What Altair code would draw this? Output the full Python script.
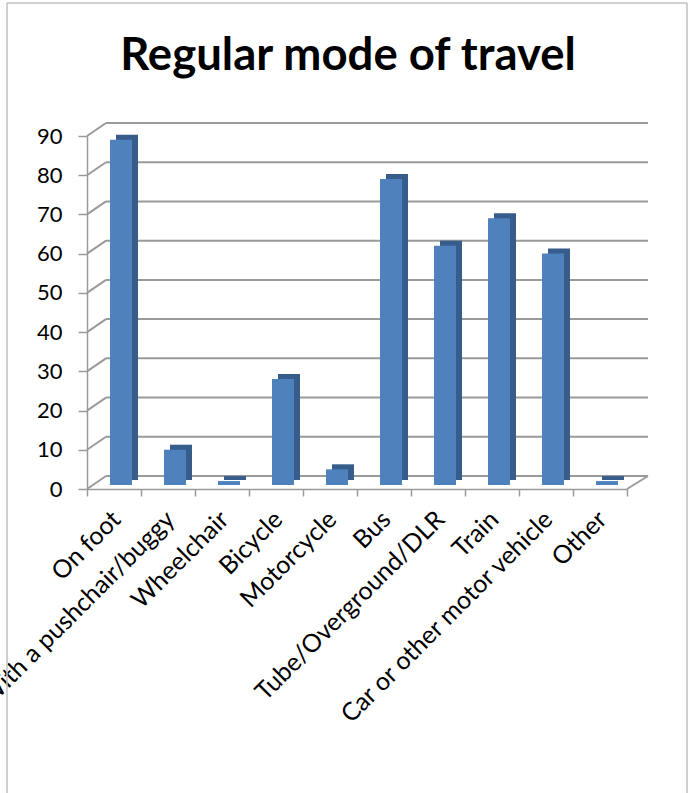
import altair as alt
import pandas as pd

# Survey answers: regular mode of travel
modes = [
    "On foot",
    "With a pushchair/buggy",
    "Wheelchair",
    "Bicycle",
    "Motorcycle",
    "Bus",
    "Tube/Overground/DLR",
    "Train",
    "Car or other motor vehicle",
    "Other",
]
counts = [88, 9, 1, 27, 4, 78, 61, 68, 59, 1]
levels = [0, 10, 20, 30, 40, 50, 60, 70, 80, 90]
title_text = ["Regular mode of travel"]

bars = pd.DataFrame({"mode": modes, "count": counts})
grid = pd.DataFrame({"level": levels})
title_df = pd.DataFrame({"t": title_text})
one = pd.DataFrame({"k": [0]})

FONT = "Lato"
GRID = "#9a9a9a"
FRONT = "#4f81bd"
SIDE = "#375d8c"

PLOT_W, PLOT_H = 561, 353
FLOOR = 540          # front edge of the floor
DX, DY = 19, -13     # depth offset of the back wall

x_scale = alt.Scale(domain=modes, range=[0, FLOOR], paddingInner=0, paddingOuter=0)
y_scale = alt.Scale(domain=[0, 90], nice=False)

y_axis = alt.Axis(
    values=levels, title=None, grid=False,
    tickSize=9, tickColor=GRID, tickWidth=1.5,
    domainColor=GRID, domainWidth=1.5,
    labelFont=FONT, labelFontSize=22, labelColor="black", labelPadding=16,
)
x_axis = alt.Axis(
    title=None, grid=False, tickBand="extent",
    tickSize=7, tickColor=GRID, tickWidth=1.5,
    domainColor=GRID, domainWidth=1.5,
    labelAngle=-45, labelAlign="right", labelBaseline="middle",
    labelOffset=2, labelPadding=19, labelLimit=0,
    labelFont=FONT, labelFontSize=25, labelColor="black",
)

# back wall gridlines
back = alt.Chart(grid).mark_rule(color=GRID, strokeWidth=2, yOffset=DY).encode(
    y=alt.Y("level:Q", scale=y_scale, axis=y_axis),
    x=alt.value(DX), x2=alt.value(PLOT_W),
)
# side wall diagonals joining the front axis to the back wall
side = alt.Chart(grid).mark_rule(color=GRID, strokeWidth=2, y2Offset=DY).encode(
    y=alt.Y("level:Q", scale=y_scale, axis=y_axis), y2="level:Q",
    x=alt.value(0), x2=alt.value(DX),
)
# right edge of the floor
floor_edge = alt.Chart(one).mark_rule(color=GRID, strokeWidth=2, y2Offset=DY).encode(
    y=alt.Y("k:Q", scale=y_scale, axis=y_axis), y2="k:Q",
    x=alt.value(FLOOR), x2=alt.value(PLOT_W),
)

# column depth (side and top faces)
depth = alt.Chart(bars).mark_bar(color=SIDE, size=22, xOffset=13, yOffset=-9, y2Offset=-9).encode(
    x=alt.X("mode:N", sort=modes, scale=x_scale, axis=x_axis),
    y=alt.Y("count:Q", scale=y_scale, axis=y_axis),
)
# column front faces
front = alt.Chart(bars).mark_bar(color=FRONT, size=22, xOffset=7, yOffset=-4, y2Offset=-4).encode(
    x=alt.X("mode:N", sort=modes, scale=x_scale, axis=x_axis),
    y=alt.Y("count:Q", scale=y_scale, axis=y_axis),
)

title = alt.Chart(title_df).mark_text(
    font=FONT, fontSize=45.5, fontWeight="bold", color="black",
    align="center", baseline="alphabetic",
).encode(text="t:N", x=alt.value(261), y=alt.value(-66))

# chart border
border_left = alt.Chart(one).mark_rule(color="#c0c0c0", strokeWidth=1.5).encode(
    x=alt.value(-80), y=alt.value(-133), y2=alt.value(700))
border_top = alt.Chart(one).mark_rule(color="#c0c0c0", strokeWidth=1.5).encode(
    x=alt.value(-80), x2=alt.value(600), y=alt.value(-133))
border_right = alt.Chart(one).mark_rule(color="#c0c0c0", strokeWidth=1.5).encode(
    x=alt.value(600), y=alt.value(-133), y2=alt.value(700))

chart = alt.layer(
    border_left, border_top, border_right,
    back, side, floor_edge, depth, front, title,
).properties(
    width=PLOT_W, height=PLOT_H,
    padding={"left": 87, "top": 136, "right": 40, "bottom": 304},
    autosize=alt.AutoSizeParams(type="none"),
    background="white",
).configure_view(stroke=None)

chart.save("out.html", embed_options={"renderer": "svg", "actions": False})
